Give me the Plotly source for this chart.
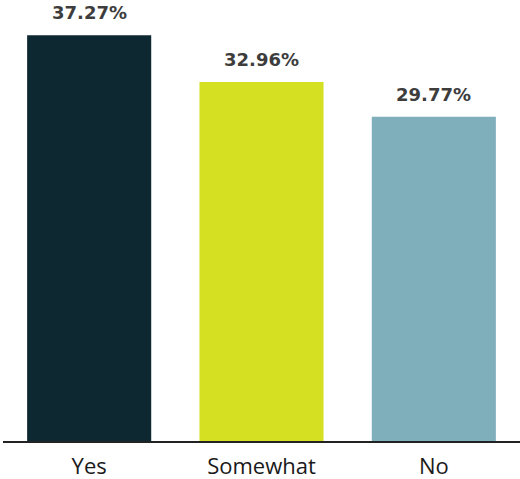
import plotly.graph_objects as go

categories = ["Yes", "Somewhat", "No"]
values = [37.27, 32.96, 29.77]
bar_colors = ["#0d2830", "#d4e021", "#7eafbb"]

fig = go.Figure(
    go.Bar(
        x=categories,
        y=values,
        marker=dict(color=bar_colors, line=dict(width=0)),
        hoverinfo="skip",
    )
)

for cat, val in zip(categories, values):
    fig.add_annotation(
        x=cat,
        y=val,
        text=f"{val:.2f}%",
        showarrow=False,
        yanchor="bottom",
        yshift=10,
        font=dict(family="DejaVu Sans", size=18, color="#3d3d3d", weight="bold"),
    )

fig.update_layout(
    width=520,
    height=479,
    margin=dict(l=3, r=0, t=0, b=38),
    paper_bgcolor="white",
    plot_bgcolor="white",
    bargap=0.28,
    showlegend=False,
    xaxis=dict(
        showline=True,
        linecolor="#222222",
        linewidth=2,
        ticks="",
        showgrid=False,
        automargin=False,
        ticklabelstandoff=5,
        tickfont=dict(family="Open Sans", size=22, color="#1a1a1a"),
    ),
    yaxis=dict(
        range=[0, 40.5],
        visible=False,
        showgrid=False,
        zeroline=False,
    ),
)

fig.write_html("out.html")
